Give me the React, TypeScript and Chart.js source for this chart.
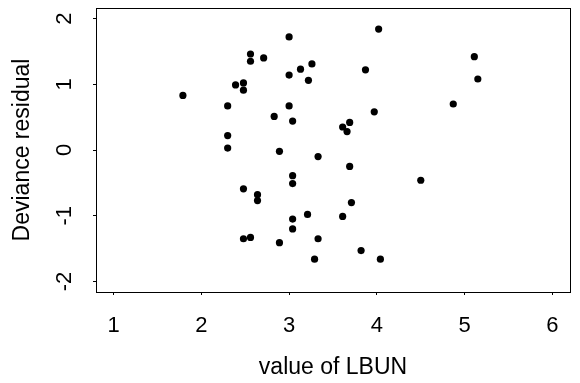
import React, { useEffect, useRef } from "react";
import { Chart, registerables } from "chart.js";

Chart.register(...registerables);

// Values of LBUN (x) and deviance residuals (y)
const lbun = [
  1.79, 2.30, 2.30, 2.30, 2.39, 2.48, 2.48, 2.48, 2.48, 2.56, 2.56, 2.56,
  2.64, 2.64, 2.71, 2.83, 2.89, 2.89, 3.00, 3.00, 3.00, 3.04, 3.04, 3.04,
  3.04, 3.04, 3.13, 3.22, 3.26, 3.21, 3.33, 3.33, 3.29, 3.61, 3.66, 3.69,
  3.69, 3.71, 3.61, 3.82, 3.87, 3.97, 4.02, 4.04, 4.50, 4.87, 5.11, 5.15,
];
const devianceResidual = [
  0.83, 0.67, 0.22, 0.03, 0.99, 1.02, 0.91, -0.59, -1.35, 1.46, 1.35, -1.33,
  -0.68, -0.77, 1.40, 0.51, -0.02, -1.41, 1.72, 1.14, 0.67, 0.44, -0.39, -0.51,
  -1.05, -1.20, 1.23, 1.06, 1.31, -0.98, -0.10, -1.35, -1.66, 0.35, 0.28, 0.42,
  -0.25, -0.80, -1.01, -1.53, 1.22, 0.58, 1.84, -1.66, -0.46, 0.70, 1.42, 1.08,
];
const xTicks = [1, 2, 3, 4, 5, 6];
const yTicks = [-2, -1, 0, 1, 2];
const xRange = [0.8, 6.2];
const yRange = [-2.16, 2.16];
const xTitle = "value of LBUN";
const yTitle = "Deviance residual";

const FONT = "'Liberation Sans', Arial, Helvetica, sans-serif";

const boxPlugin = {
  id: "plotBox",
  afterDraw(chart: any) {
    const { ctx, chartArea: a } = chart;
    ctx.save();
    ctx.strokeStyle = "#000";
    ctx.lineWidth = 1;
    const l = Math.round(a.left) + 0.5;
    const t = Math.round(a.top) + 0.5;
    const r = Math.round(a.right) + 0.5;
    const b = Math.round(a.bottom) + 0.5;
    ctx.strokeRect(l, t, r - l, b - t);
    ctx.restore();
  },
};

function zeroPad(scale: any) {
  scale.paddingTop = 0;
  scale.paddingBottom = 0;
  scale.paddingLeft = 0;
  scale.paddingRight = 0;
}

export default function App() {
  const ref = useRef<HTMLCanvasElement | null>(null);

  useEffect(() => {
    if (!ref.current) return;
    const points = lbun.map((x, i) => ({ x, y: devianceResidual[i] }));
    const chart = new Chart(ref.current, {
      type: "scatter",
      data: {
        datasets: [
          {
            data: points,
            backgroundColor: "#000",
            borderColor: "#000",
            borderWidth: 0,
            pointRadius: 3.6,
            pointHoverRadius: 3.6,
            pointStyle: "circle",
          },
        ],
      },
      options: {
        responsive: false,
        animation: false,
        events: [],
        layout: { padding: { top: 8, right: 10, left: 0, bottom: 0 } },
        plugins: {
          legend: { display: false },
          tooltip: { enabled: false },
          title: { display: false },
        },
        scales: {
          x: {
            type: "linear",
            position: "bottom",
            min: xRange[0],
            max: xRange[1],
            afterBuildTicks: (scale: any) => {
              scale.ticks = xTicks.map((v) => ({ value: v }));
            },
            afterFit: (scale: any) => {
              scale.height = 91;
              zeroPad(scale);
            },
            border: { display: false },
            grid: {
              display: true,
              drawOnChartArea: false,
              drawTicks: true,
              tickLength: 3,
              color: "#000",
              lineWidth: 1,
            },
            ticks: {
              color: "#000",
              font: { family: FONT, size: 22 },
              padding: 18,
              maxRotation: 0,
              minRotation: 0,
              autoSkip: false,
              callback: (v: any) => String(v),
            },
            title: {
              display: true,
              text: xTitle,
              color: "#000",
              font: { family: FONT, size: 23, lineHeight: 1 },
              padding: { top: 0, bottom: 4 },
            },
          },
          y: {
            type: "linear",
            position: "left",
            min: yRange[0],
            max: yRange[1],
            afterBuildTicks: (scale: any) => {
              scale.ticks = yTicks.map((v) => ({ value: v }));
            },
            afterFit: (scale: any) => {
              scale.width = 96;
              zeroPad(scale);
            },
            border: { display: false },
            grid: {
              display: true,
              drawOnChartArea: false,
              drawTicks: true,
              tickLength: 3,
              color: "#000",
              lineWidth: 1,
            },
            ticks: {
              color: "#000",
              font: { family: FONT, size: 22 },
              padding: 18,
              minRotation: 90,
              maxRotation: 90,
              crossAlign: "center",
              autoSkip: false,
              callback: (v: any) => String(v),
            },
            title: {
              display: true,
              text: yTitle,
              color: "#000",
              font: { family: FONT, size: 23, lineHeight: 1 },
              padding: { top: 11, bottom: 0 },
            },
          },
        },
      },
      plugins: [boxPlugin],
    } as any);
    return () => chart.destroy();
  }, []);

  return (
    <div style={{ position: "absolute", left: 0, top: 0, width: 580, height: 383, background: "#fff" }}>
      <canvas ref={ref} width={580} height={383} style={{ display: "block" }} />
    </div>
  );
}
